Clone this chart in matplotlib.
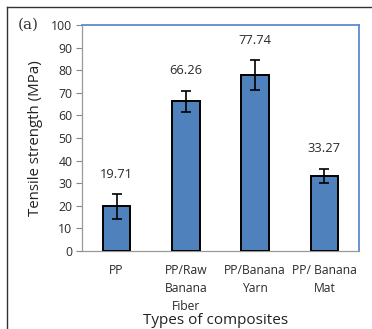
import matplotlib
matplotlib.use("Agg")
import matplotlib.pyplot as plt
from matplotlib.lines import Line2D

categories = ["PP", "PP/Raw\nBanana\nFiber", "PP/Banana\nYarn", "PP/ Banana\nMat"]
values = [19.71, 66.26, 77.74, 33.27]
errors = [5.5, 4.7, 6.7, 3.2]
value_labels = ["19.71", "66.26", "77.74", "33.27"]
yticks = [0, 10, 20, 30, 40, 50, 60, 70, 80, 90, 100]

plt.rcParams['font.family'] = ['Open Sans', 'DejaVu Sans']

fig = plt.figure(figsize=(3.72, 3.29), dpi=100)
ax = fig.add_axes([82/372, 1-251/329, (359-82)/372, (251-25)/329])

x = list(range(len(categories)))
ax.bar(x, values, width=0.4, color="#4f81bd", edgecolor="black", linewidth=1.4,
       yerr=errors, error_kw=dict(ecolor="black", elinewidth=1.2, capsize=3.3, capthick=1.2),
       zorder=3)
for xi, v, e, lab in zip(x, values, errors, value_labels):
    ax.text(xi, v + e + 8.8, lab, ha="center", va="center", fontsize=9.3, color="#2a2a2a")

ax.set_xlim(-0.5, len(categories) - 0.5)
ax.set_ylim(0, 100)
ax.set_yticks(yticks)
ax.set_yticklabels([str(t) for t in yticks], fontsize=8.8, color="#2a2a2a")
ax.set_xticks(x)
ax.set_xticklabels(categories, fontsize=8.7, color="#2a2a2a", linespacing=1.55)
ax.tick_params(axis='x', length=0, pad=9)
ax.tick_params(axis='y', length=4, width=0.8, color="#888888", pad=3)

for s in ['top', 'right']:
    ax.spines[s].set_color("#5b8bd0")
    ax.spines[s].set_linewidth(1.3)
for s in ['left', 'bottom']:
    ax.spines[s].set_color("#999999")
    ax.spines[s].set_linewidth(0.9)

ax.set_ylabel("Tensile strength (MPa)", fontsize=10.8, color="#222222", labelpad=6)
ax.set_xlabel("Types of composites", fontsize=11, color="#222222")
ax.xaxis.label.set_va("center")
ax.xaxis.set_label_coords((216 - 82) / 277, (251 - 320) / 226)

fig.text(28/372, 1-25/329, "(a)", fontsize=11, family="DejaVu Serif", ha="center",
         va="center", color="#333333")

# outer frame lines (top and left)
fig.add_artist(Line2D([7/372, 1], [1-7/329, 1-7/329], transform=fig.transFigure,
                      color="#333333", linewidth=1))
fig.add_artist(Line2D([7/372, 7/372], [0, 1-7/329], transform=fig.transFigure,
                      color="#333333", linewidth=1))

fig.savefig("out.png", dpi=100)
